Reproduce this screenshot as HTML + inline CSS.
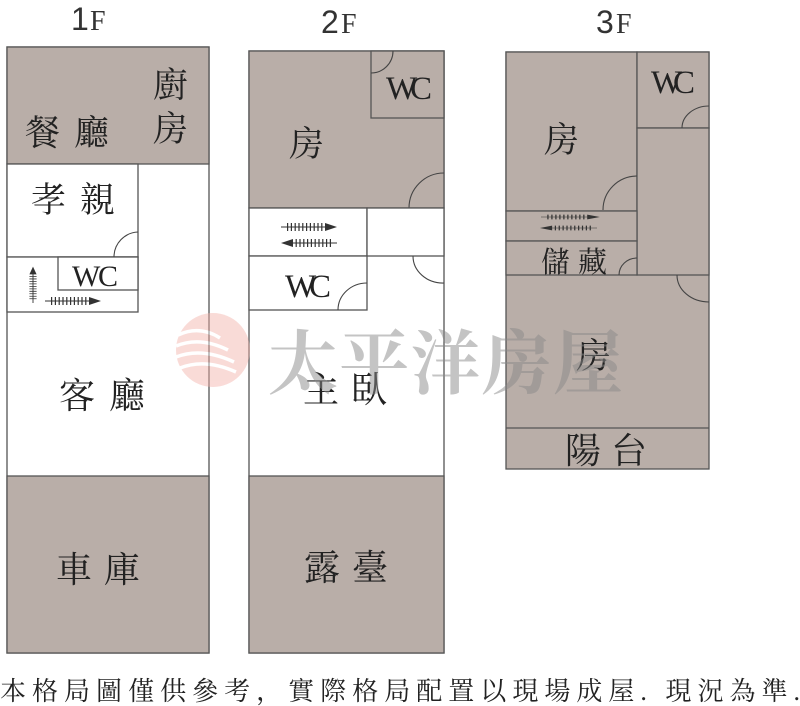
<!DOCTYPE html>
<html><head><meta charset="utf-8"><style>
html,body{margin:0;padding:0;background:#fff;width:800px;height:706px;overflow:hidden}
svg{display:block}
.r{fill:none;stroke:#555;stroke-width:1.3}
.g{fill:#b9aea8;stroke:#555;stroke-width:1.3}
.w{fill:#fff;stroke:#555;stroke-width:1.3}
.t{font-family:"Liberation Serif","Noto Serif CJK SC","Noto Sans CJK TC",serif;fill:#222}
.a{fill:none;stroke:#444;stroke-width:1.1}
</style></head><body>
<svg width="800" height="706" viewBox="0 0 800 706" xmlns="http://www.w3.org/2000/svg">
<defs>
<g id="arrR"><line x1="0" y1="0" x2="48" y2="0" stroke="#333" stroke-width="1"/><line x1="6" y1="0" x2="44" y2="0" stroke="#333" stroke-width="8" stroke-dasharray="1.2 2.6"/><polygon points="44,-4 56,0 44,4" fill="#333"/></g>
</defs>
<!-- headers -->
<text x="71" y="30" font-family="Liberation Sans,sans-serif" font-size="32" fill="#333">1</text><text x="90" y="30" class="t" font-size="28" style="fill:#333">F</text>
<text x="321" y="33" font-family="Liberation Sans,sans-serif" font-size="32" fill="#333">2</text><text x="341" y="33" class="t" font-size="28" style="fill:#333">F</text>
<text x="596" y="33" font-family="Liberation Sans,sans-serif" font-size="32" fill="#333">3</text><text x="616" y="33" class="t" font-size="28" style="fill:#333">F</text>

<!-- 1F -->
<rect class="w" x="7" y="47" width="202" height="606"/>
<rect class="g" x="7" y="47" width="202" height="117"/>
<rect class="w" x="7" y="164" width="131" height="93"/>
<rect class="w" x="7" y="257" width="131" height="55"/>
<rect class="w" x="58" y="257" width="80" height="33"/>
<rect class="g" x="7" y="476" width="202" height="177"/>
<path class="a" d="M138,232 A25,25 0 0 0 114,257"/>
<text class="t" x="25" y="145" font-size="35" textLength="84">餐廳</text>
<text class="t" x="153" y="97" font-size="35">廚</text>
<text class="t" x="153" y="141" font-size="35">房</text>
<text class="t" x="31" y="212" font-size="35" textLength="84">孝親</text>
<text class="t" x="72" y="286" font-size="30" textLength="46">WC</text>
<use href="#arrR" transform="translate(33,303) rotate(-90) scale(0.65,0.9)"/>
<use href="#arrR" transform="translate(45,301)"/>
<text class="t" x="59" y="408" font-size="36" textLength="86">客廳</text>
<text class="t" x="56" y="582" font-size="36" textLength="84">車庫</text>

<!-- 2F -->
<rect class="w" x="249" y="51" width="195" height="602"/>
<rect class="g" x="249" y="51" width="195" height="157"/>
<rect class="g" x="371" y="51" width="73" height="67"/>
<path class="a" d="M393,51 A22,22 0 0 1 371,73"/>
<path class="a" d="M444,173 A35,35 0 0 0 409,208"/>
<rect class="w" x="249" y="208" width="118" height="48"/>
<rect class="w" x="367" y="208" width="77" height="48"/>
<rect class="w" x="249" y="256" width="118" height="54"/>
<path class="a" d="M367,283 A29,27 0 0 0 338,310"/>
<path class="a" d="M413,256 A30,27 0 0 0 444,283"/>
<text class="t" x="289" y="156" font-size="35">房</text>
<text class="t" x="386" y="99" font-size="33" textLength="46">WC</text>
<text class="t" x="285" y="297" font-size="33" textLength="46">WC</text>
<use href="#arrR" transform="translate(281,227)"/>
<use href="#arrR" transform="translate(337,243) scale(-1,1)"/>
<text class="t" x="303" y="402" font-size="36" textLength="84">主臥</text>
<rect class="g" x="249" y="476" width="195" height="177"/>
<text class="t" x="304" y="580" font-size="36" textLength="84">露臺</text>

<!-- 3F -->
<rect class="g" x="506" y="52" width="203" height="417"/>
<rect class="g" x="506" y="52" width="131" height="159"/>
<rect class="g" x="637" y="52" width="72" height="76"/>
<rect class="g" x="637" y="128" width="72" height="147"/>
<rect class="g" x="506" y="211" width="131" height="30"/>
<rect class="g" x="506" y="241" width="131" height="34"/>
<line class="r" x1="506" y1="428" x2="709" y2="428"/>
<path class="a" d="M637,176 A34,34 0 0 0 603,210"/>
<path class="a" d="M709,106 A27,22 0 0 0 682,128"/>
<path class="a" d="M637,258 A18,17 0 0 0 619,275"/>
<path class="a" d="M677,275 A32,27 0 0 0 709,302"/>
<text class="t" x="544" y="152" font-size="35">房</text>
<text class="t" x="651" y="93" font-size="33" textLength="44">WC</text>
<use href="#arrR" transform="translate(541,217) scale(1.05,0.6)"/>
<use href="#arrR" transform="translate(597,228) scale(-1.02,0.6)"/>
<text class="t" x="541" y="272" font-size="29" textLength="66">儲藏</text>
<text class="t" x="576" y="368" font-size="35">房</text>
<text class="t" x="565" y="463" font-size="36" textLength="82">陽台</text>

<!-- watermark -->
<g opacity="0.45">
<circle cx="213" cy="350" r="37" fill="#f3b0a8"/>
<g stroke="#fff" stroke-width="3.5" fill="none">
<path d="M178,335 Q200,325 220,338"/><path d="M176,346 Q200,336 228,350"/>
<path d="M176,357 Q202,347 234,362"/><path d="M180,368 Q205,358 236,372"/>
</g>
</g>
<text x="268" y="388" font-family="Noto Serif CJK SC,Liberation Serif,serif" font-weight="bold" font-size="70" fill="#8a8a8a" opacity="0.5" textLength="355">太平洋房屋</text>

<!-- footer -->
<text class="t" x="0" y="700" font-size="26" textLength="800" style="fill:#222">本格局圖僅供參考，實際格局配置以現場成屋. 現況為準.</text>
</svg>
</body></html>
